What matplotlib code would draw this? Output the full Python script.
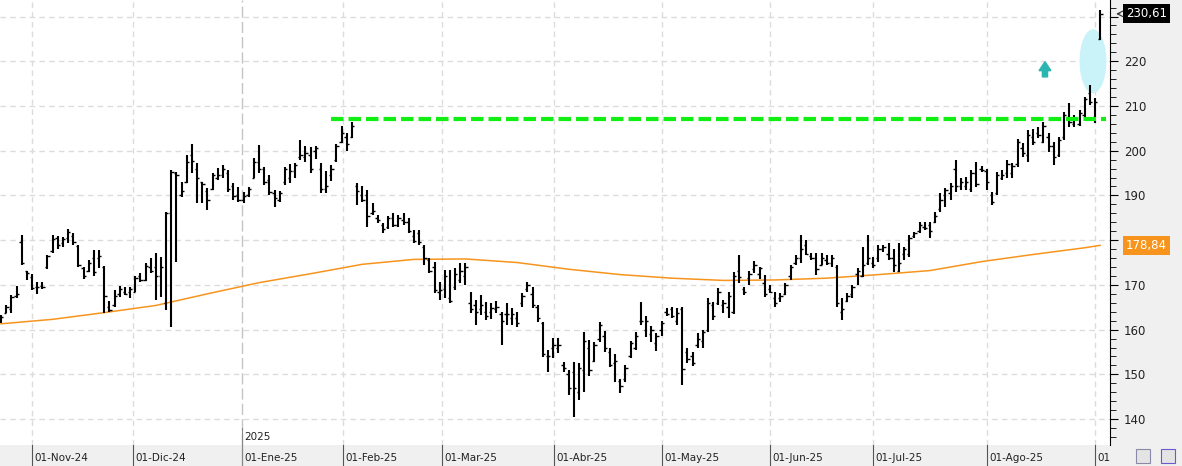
import matplotlib
matplotlib.use("Agg")
import matplotlib.pyplot as plt
import matplotlib.transforms as mtransforms
from matplotlib.patches import Ellipse, Rectangle
import numpy as np

# OHLC values, one per trading session
opens = [162.0, 163.8, 164.5, 167.5, 179.7, 173.0, 171.8, 169.5, 169.8, 174.0,
         177.5, 180.5, 179.4, 180.5, 181.0, 178.6, 173.8, 173.0, 176.0, 176.0,
         174.0, 165.0, 165.5, 168.0, 168.5, 168.5, 168.5, 172.0, 171.0, 174.0,
         174.0, 172.0, 166.0, 186.0, 195.0, 190.0, 193.0, 199.0, 196.0, 193.0,
         191.0, 191.5, 194.0, 194.5, 195.0, 192.0, 190.0, 189.0, 190.0, 194.0,
         197.5, 196.0, 193.5, 190.5, 189.0, 193.0, 194.0, 195.5, 198.5, 198.5,
         199.0, 200.0, 196.0, 191.5, 194.5, 198.0, 202.0, 203.0, 203.0, 192.0,
         190.0, 190.0, 186.0, 185.0, 183.5, 183.0, 185.0, 183.5, 184.5, 184.0,
         181.0, 181.5, 178.5, 175.5, 174.0, 168.5, 169.0, 167.0, 169.5, 171.0,
         172.0, 166.0, 165.5, 164.5, 164.0, 164.0, 164.5, 163.5, 163.5, 162.5,
         162.5, 166.0, 169.0, 168.0, 165.0, 161.5, 154.0, 156.0, 156.0, 152.0,
         150.0, 150.5, 146.0, 151.0, 156.0, 153.0, 158.0, 158.5, 155.0, 152.5,
         148.5, 149.0, 154.0, 156.0, 162.0, 160.0, 159.0, 157.0, 160.0, 164.0,
         164.5, 162.0, 164.5, 155.0, 154.0, 156.5, 157.5, 160.0, 165.5, 166.0,
         165.5, 165.0, 164.0, 173.0, 169.0, 171.5, 173.5, 172.5, 170.5, 169.0,
         167.0, 167.0, 168.0, 172.0, 175.0, 176.0, 179.0, 176.5, 176.0, 174.5,
         175.5, 175.0, 174.0, 164.0, 166.5, 168.0, 172.5, 172.0, 175.0, 175.0,
         176.0, 178.0, 177.0, 176.0, 173.0, 177.0, 177.0, 181.0, 182.0, 183.0,
         183.5, 184.0, 187.0, 190.0, 190.5, 196.0, 192.0, 192.0, 191.5, 195.0,
         196.0, 195.5, 190.0, 190.5, 194.0, 195.0, 195.0, 197.0, 200.5, 199.0,
         203.0, 204.0, 202.0, 203.0, 201.0, 199.0, 203.0, 207.5, 206.0, 206.0,
         208.0, 213.0, 207.5, 225.0]
highs = [163.2, 165.5, 167.7, 169.7, 181.1, 173.0, 172.4, 170.6, 170.6, 176.7,
         181.1, 180.9, 180.7, 182.5, 181.6, 178.9, 174.0, 175.5, 177.8, 177.8,
         174.2, 166.4, 168.8, 169.7, 169.5, 169.5, 172.0, 172.6, 174.9, 176.0,
         177.1, 176.2, 186.3, 195.7, 195.2, 193.0, 199.0, 201.5, 197.2, 193.0,
         191.7, 195.0, 196.1, 196.8, 195.7, 192.8, 191.9, 190.8, 191.9, 198.4,
         201.3, 196.4, 194.6, 191.2, 191.0, 196.4, 197.0, 197.2, 202.4, 201.0,
         200.8, 201.0, 197.2, 195.5, 196.8, 201.5, 205.5, 204.0, 206.4, 192.8,
         192.1, 191.2, 188.3, 185.6, 183.8, 185.5, 186.0, 185.6, 186.0, 185.0,
         182.3, 182.3, 178.9, 176.0, 175.1, 170.6, 173.3, 173.3, 173.8, 174.9,
         174.9, 168.4, 166.6, 167.7, 166.1, 165.9, 166.4, 163.9, 165.9, 164.8,
         163.9, 168.2, 170.6, 169.5, 165.5, 161.7, 155.4, 158.1, 158.1, 152.7,
         150.9, 152.7, 152.5, 159.4, 157.6, 157.2, 161.7, 159.7, 155.9, 154.5,
         148.9, 152.1, 157.4, 159.4, 166.1, 163.0, 160.8, 159.2, 161.9, 164.8,
         165.0, 164.8, 165.0, 155.9, 155.0, 159.2, 159.9, 167.0, 166.1, 169.3,
         166.6, 168.4, 172.9, 176.7, 169.5, 173.1, 175.3, 174.0, 172.2, 170.0,
         168.4, 168.2, 170.4, 174.4, 176.7, 181.1, 180.0, 177.1, 177.1, 177.1,
         176.7, 176.7, 174.4, 167.0, 168.2, 170.0, 173.8, 178.5, 181.1, 176.2,
         178.9, 178.9, 179.4, 178.0, 179.4, 178.5, 181.1, 181.8, 184.0, 184.0,
         184.0, 186.3, 190.5, 191.7, 192.8, 197.9, 193.9, 194.1, 195.7, 197.5,
         196.6, 195.9, 190.8, 195.2, 195.7, 197.9, 197.2, 202.6, 201.7, 204.6,
         204.9, 205.3, 206.4, 204.0, 201.9, 203.0, 208.7, 210.7, 208.0, 209.1,
         212.0, 214.7, 211.8, 231.5]
lows = [161.5, 163.7, 163.7, 167.0, 174.4, 171.0, 168.8, 168.0, 169.0, 173.5,
        177.1, 178.0, 178.5, 179.4, 178.9, 174.0, 171.3, 172.8, 172.0, 173.8,
        163.7, 163.9, 165.0, 167.3, 167.7, 167.0, 168.4, 170.6, 170.9, 172.6,
        166.6, 167.3, 164.4, 160.6, 175.1, 189.6, 192.8, 195.0, 188.3, 188.3,
        186.7, 191.2, 193.4, 194.0, 190.8, 189.0, 188.5, 188.3, 189.6, 193.9,
        195.0, 192.3, 190.1, 187.4, 188.5, 192.3, 192.8, 193.9, 197.9, 197.5,
        195.0, 198.1, 190.5, 190.5, 193.2, 197.5, 201.7, 200.0, 202.8, 187.9,
        188.5, 182.9, 185.6, 183.8, 181.6, 182.5, 183.0, 182.9, 183.4, 181.5,
        179.4, 178.9, 174.4, 172.6, 168.2, 166.6, 167.0, 165.9, 168.8, 170.4,
        170.0, 163.7, 161.0, 163.2, 162.1, 162.3, 163.7, 156.5, 161.0, 161.0,
        160.6, 165.0, 168.4, 164.8, 161.7, 153.8, 150.5, 153.6, 154.7, 150.5,
        145.3, 140.4, 144.3, 146.0, 149.6, 152.7, 157.2, 155.0, 151.6, 148.3,
        145.8, 148.3, 153.6, 155.4, 161.0, 158.3, 157.2, 155.2, 158.5, 163.0,
        162.6, 161.0, 147.6, 152.5, 151.8, 155.9, 155.9, 159.4, 162.1, 165.5,
        163.7, 162.6, 163.5, 170.4, 167.7, 170.0, 172.6, 171.3, 167.3, 168.2,
        165.0, 166.1, 167.7, 171.1, 174.4, 174.9, 176.7, 175.5, 172.2, 174.4,
        174.4, 174.0, 165.0, 162.1, 166.1, 167.0, 170.0, 171.8, 174.4, 173.8,
        175.1, 177.3, 175.5, 172.9, 172.9, 175.5, 176.2, 180.5, 181.6, 182.3,
        180.5, 183.8, 186.3, 187.4, 189.0, 190.8, 191.2, 191.2, 190.8, 191.9,
        195.2, 191.2, 187.9, 190.0, 193.4, 193.9, 193.9, 196.4, 198.6, 197.5,
        201.3, 202.8, 201.7, 199.7, 196.8, 198.5, 202.4, 205.3, 205.3, 205.5,
        207.3, 210.2, 206.2, 224.8]
closes = [162.8, 165.0, 167.2, 168.0, 174.8, 172.6, 169.3, 169.6, 169.5, 176.5,
          180.2, 179.0, 180.2, 181.8, 179.5, 174.5, 172.0, 175.0, 172.8, 176.5,
          167.5, 164.4, 167.5, 169.0, 168.0, 169.0, 171.5, 171.0, 174.2, 173.2,
          172.0, 174.0, 186.0, 195.2, 194.5, 191.0, 197.5, 197.8, 194.0, 192.5,
          189.0, 194.5, 194.5, 196.0, 191.5, 189.8, 189.0, 189.8, 191.5, 197.5,
          196.0, 193.0, 190.8, 189.5, 190.5, 196.0, 195.5, 196.8, 199.0, 199.5,
          196.0, 200.5, 191.5, 192.0, 196.0, 201.0, 204.0, 201.5, 205.5, 191.0,
          189.0, 185.4, 186.5, 184.5, 182.5, 185.0, 183.5, 185.0, 184.0, 182.0,
          179.8, 179.5, 176.0, 173.0, 168.8, 168.8, 172.0, 166.5, 172.5, 173.0,
          174.0, 164.5, 164.0, 165.5, 163.0, 164.8, 165.0, 162.0, 163.5, 163.5,
          161.5, 167.5, 170.0, 165.5, 162.5, 154.5, 154.0, 156.5, 156.5, 151.5,
          147.0, 147.0, 151.5, 157.5, 151.0, 156.5, 161.0, 155.8, 152.0, 153.0,
          147.5, 151.5, 157.0, 158.5, 162.0, 162.0, 160.0, 158.5, 161.5, 163.5,
          163.0, 163.8, 151.2, 153.5, 152.5, 158.0, 159.5, 166.0, 163.0, 168.5,
          166.0, 167.5, 172.0, 171.8, 168.5, 172.5, 174.5, 173.8, 168.0, 168.5,
          166.0, 167.5, 170.0, 174.0, 176.0, 178.0, 177.0, 176.0, 173.5, 176.0,
          175.0, 176.0, 166.0, 164.5, 167.5, 169.5, 173.0, 174.5, 176.0, 174.5,
          178.0, 178.5, 176.0, 174.5, 175.0, 178.0, 180.5, 181.5, 183.5, 182.8,
          182.0, 185.5, 189.0, 191.2, 192.0, 192.0, 193.0, 193.0, 195.0, 192.5,
          195.8, 193.0, 188.5, 194.5, 194.5, 197.0, 196.5, 202.0, 199.5, 203.5,
          202.0, 203.5, 205.5, 201.0, 198.5, 202.5, 208.0, 206.5, 207.0, 208.5,
          211.5, 211.0, 211.0, 230.61]

# 200-session moving average, sampled every 10 sessions
ma_idx = [0, 10, 20, 30, 40, 50, 60, 70, 80, 90, 100, 110, 120, 130, 140,
          150, 160, 170, 180, 190, 200, 210, 213]
ma_vals = [161.3, 162.3, 163.8, 165.4, 168.0, 170.5, 172.5, 174.6, 175.7,
           175.8, 175.0, 173.5, 172.3, 171.5, 171.0, 171.1, 171.5, 172.3,
           173.2, 175.2, 176.8, 178.3, 178.84]

month_labels = ['01-Nov-24', '01-Dic-24', '01-Ene-25', '01-Feb-25', '01-Mar-25',
                '01-Abr-25', '01-May-25', '01-Jun-25', '01-Jul-25', '01-Ago-25', '01']
month_pos = [6.0, 25.6, 46.6, 66.3, 85.4, 107.1, 128.0, 149.0, 169.0, 191.1, 212.0]

price_ticks = [140, 150, 160, 170, 190, 200, 210, 220]   # 180 and 230 sit under the tags

support_level = 207.0
support_from = 64
last_price = '230,61'
last_ma = '178,84'

W, H = 1182, 466
fig = plt.figure(figsize=(W / 100, H / 100), dpi=100, facecolor='#f0f0f0')
ax = fig.add_axes([0, 21 / H, 1110 / W, 445 / H])
ax.set_facecolor('white')

n = len(closes)
x = np.arange(n)
ax.set_xlim(-0.2, 214.9)
ax.set_ylim(134.2, 233.7)

# grid
for v in range(140, 231, 10):
    ax.axhline(v, color='#dcdcdc', lw=1, ls=(0, (4, 3)), zorder=0)
for i, p in enumerate(month_pos):
    if i == 2:
        ax.axvline(p, color='#c4c4c4', lw=1, ls=(0, (8, 3)), zorder=0)
    else:
        ax.axvline(p, color='#dcdcdc', lw=1, ls=(0, (4, 3)), zorder=0)

# highlight ellipse behind the bars
ax.add_patch(Ellipse((211.6, 220.0), 5.2, 14.3, facecolor='#c9f3f9',
                     edgecolor='none', zorder=1))

# moving average
ax.plot(ma_idx, ma_vals, color='#f7941d', lw=1.1, zorder=2)

# OHLC bars
ax.vlines(x, lows, highs, color='black', lw=1.5, zorder=3)
ax.hlines(opens, x - 0.45, x, color='black', lw=1, zorder=3)
ax.hlines(closes, x, x + 0.45, color='black', lw=1, zorder=3)

# support line
ax.plot([support_from, 214.2], [support_level, support_level], color='#11ee11',
        lw=3, dashes=(3, 1.2), zorder=4)

# up arrow
ax.arrow(202.3, 216.5, 0, 1.4, width=1.0, head_width=2.3, head_length=2.0,
         length_includes_head=False, color='#2bb5b0', zorder=4)

# axes styling
for s in ['top', 'left', 'bottom']:
    ax.spines[s].set_visible(False)
ax.spines['right'].set_color('black')
ax.yaxis.tick_right()
ax.set_yticks(range(140, 231, 10))
ax.set_yticklabels([str(v) if v in price_ticks else '' for v in range(140, 231, 10)])
ax.set_yticks(np.arange(136, 234, 2), minor=True)
ax.tick_params(axis='y', which='major', length=6, color='black',
               labelsize=8.5, pad=4, labelcolor='#222222')
ax.tick_params(axis='y', which='minor', length=4, color='black')
ax.set_xticks([])

# date labels below the plot
trans = mtransforms.blended_transform_factory(ax.transData, fig.transFigure)
for p, lab in zip(month_pos, month_labels):
    ax.plot([p, p], [0, 21 / H], transform=trans, color='#555555', lw=0.8,
            clip_on=False)
    ax.text(p + 0.5, 8 / H, lab, transform=trans, fontsize=7.5,
            color='#222222', va='center', ha='left')
# year marker
ax.plot([month_pos[2], month_pos[2]], [0, 38 / H], transform=trans,
        color='#888888', lw=0.8, clip_on=False)
ax.text(month_pos[2] + 0.5, (466 - 437) / H, '2025', transform=trans,
        fontsize=7.5, color='#222222', va='center', ha='left')

# price tags on the right axis
yt = mtransforms.blended_transform_factory(ax.transAxes, ax.transData)
ax.text(1.0145, closes[-1], last_price, transform=yt, fontsize=8.5,
        color='white', va='center', ha='left',
        bbox=dict(boxstyle='square,pad=0.25', fc='black', ec='none'))
ax.text(1.0145, ma_vals[-1], last_ma, transform=yt, fontsize=8.5,
        color='white', va='center', ha='left',
        bbox=dict(boxstyle='square,pad=0.25', fc='#f7941d', ec='none'))
ax.annotate('', xy=(1.003, closes[-1]), xytext=(1.0115, closes[-1]),
            xycoords=yt, textcoords=yt,
            arrowprops=dict(arrowstyle='->', color='#333333', lw=0.8))

# small toolbar icons at bottom right
fig.patches.append(Rectangle((1136 / W, 3 / H), 14 / W, 14 / H,
                             transform=fig.transFigure, fc='#e4e4e4',
                             ec='#8a8aa8', lw=0.8))
fig.patches.append(Rectangle((1161 / W, 3 / H), 14 / W, 14 / H,
                             transform=fig.transFigure, fc='#e4e4e4',
                             ec='#6a5acd', lw=0.8))

fig.savefig('out.png', dpi=100, facecolor=fig.get_facecolor())
